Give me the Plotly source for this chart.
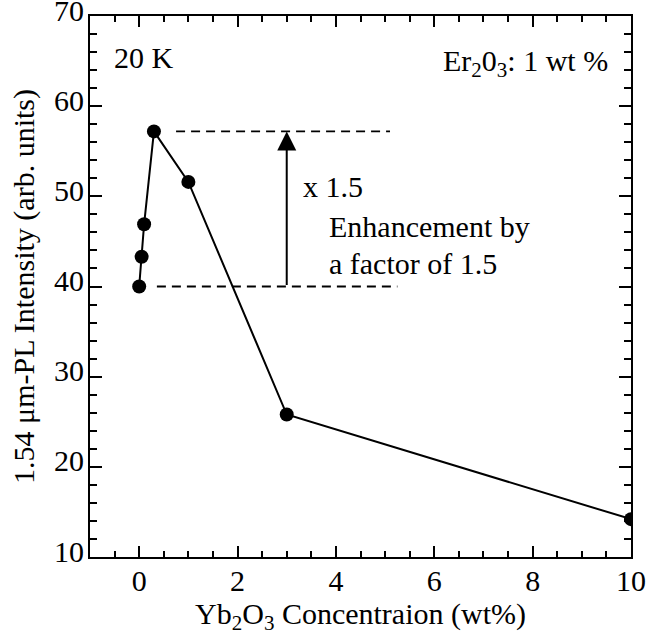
import plotly.graph_objects as go

# Data
yb2o3_wt = [0, 0.05, 0.1, 0.3, 1, 3, 10]
pl_intensity = [40.0, 43.3, 46.9, 57.2, 51.6, 25.8, 14.2]

x_tick_vals = [0, 2, 4, 6, 8, 10]
y_tick_vals = [10, 20, 30, 40, 50, 60, 70]

base_level = pl_intensity[0]
peak_level = max(pl_intensity)
arrow_x = 3
upper_dash_x = [0.75, 5.1]
lower_dash_x = [0.36, 5.25]

FONT = "Liberation Serif, Times New Roman, serif"
FS = 30

fig = go.Figure()

fig.add_trace(go.Scatter(
    x=upper_dash_x, y=[peak_level, peak_level], mode="lines",
    line=dict(color="black", width=1.8, dash="9px,6px"), hoverinfo="skip"))
fig.add_trace(go.Scatter(
    x=lower_dash_x, y=[base_level, base_level], mode="lines",
    line=dict(color="black", width=1.8, dash="9px,6px"), hoverinfo="skip"))

fig.add_trace(go.Scatter(
    x=yb2o3_wt, y=pl_intensity, mode="lines+markers",
    line=dict(color="black", width=2),
    marker=dict(color="black", size=14)))

# arrow
fig.add_annotation(x=arrow_x, y=peak_level, ax=arrow_x, ay=base_level,
                   xref="x", yref="y", axref="x", ayref="y",
                   showarrow=True, arrowhead=2, arrowsize=1.9, arrowwidth=2,
                   arrowcolor="black", standoff=0, text="")

fig.add_annotation(x=3.29, y=51.1, xref="x", yref="y", text="x 1.5",
                   showarrow=False, xanchor="left", yanchor="middle",
                   font=dict(family=FONT, size=FS, color="black"))
fig.add_annotation(x=3.81, y=46.6, xref="x", yref="y", text="Enhancement by",
                   showarrow=False, xanchor="left", yanchor="middle",
                   font=dict(family=FONT, size=FS, color="black"))
fig.add_annotation(x=3.81, y=42.5, xref="x", yref="y", text="a factor of 1.5",
                   showarrow=False, xanchor="left", yanchor="middle",
                   font=dict(family=FONT, size=FS, color="black"))

fig.add_annotation(x=0.041, y=0.924, xref="paper", yref="paper", text="20 K",
                   showarrow=False, xanchor="left", yanchor="middle",
                   font=dict(family=FONT, size=FS, color="black"))
fig.add_annotation(x=0.961, y=0.913, xref="paper", yref="paper",
                   text="Er<sub>2</sub>0<sub>3</sub>: 1 wt %",
                   showarrow=False, xanchor="right", yanchor="middle",
                   font=dict(family=FONT, size=FS, color="black"))

axis_common = dict(
    showline=True, linecolor="black", linewidth=2, mirror="allticks",
    ticks="inside", tickcolor="black", tickwidth=2,
    showgrid=False, zeroline=False, automargin=False,
    tickfont=dict(family=FONT, size=FS, color="black"),
    ticklabeloverflow="allow",
)

fig.update_xaxes(
    range=[-1, 10], tickvals=x_tick_vals, ticklen=11,
    minor=dict(dtick=0.5, ticks="inside", ticklen=6, tickwidth=2, tickcolor="black", showgrid=False),
    ticklabelstandoff=-4,
    title=dict(text="Yb<sub>2</sub>O<sub>3</sub> Concentraion (wt%)",
               font=dict(family=FONT, size=FS, color="black"), standoff=0),
    **axis_common)
fig.update_yaxes(
    range=[10, 70], tickvals=y_tick_vals, ticklen=12,
    minor=dict(dtick=2, ticks="inside", ticklen=7, tickwidth=2, tickcolor="black", showgrid=False),
    ticklabelstandoff=-2, ticklabelshift=-6,
    title=dict(text="1.54 μm-PL Intensity (arb. units)",
               font=dict(family=FONT, size=FS, color="black"), standoff=11),
    **axis_common)

fig.update_layout(
    width=646, height=637,
    margin=dict(l=90, r=15, t=16, b=80),
    plot_bgcolor="white", paper_bgcolor="white",
    showlegend=False,
    font=dict(family=FONT, size=FS, color="black"),
)

fig.write_html("out.html", config={"displayModeBar": False},
               post_script="document.body.style.margin='0';")
